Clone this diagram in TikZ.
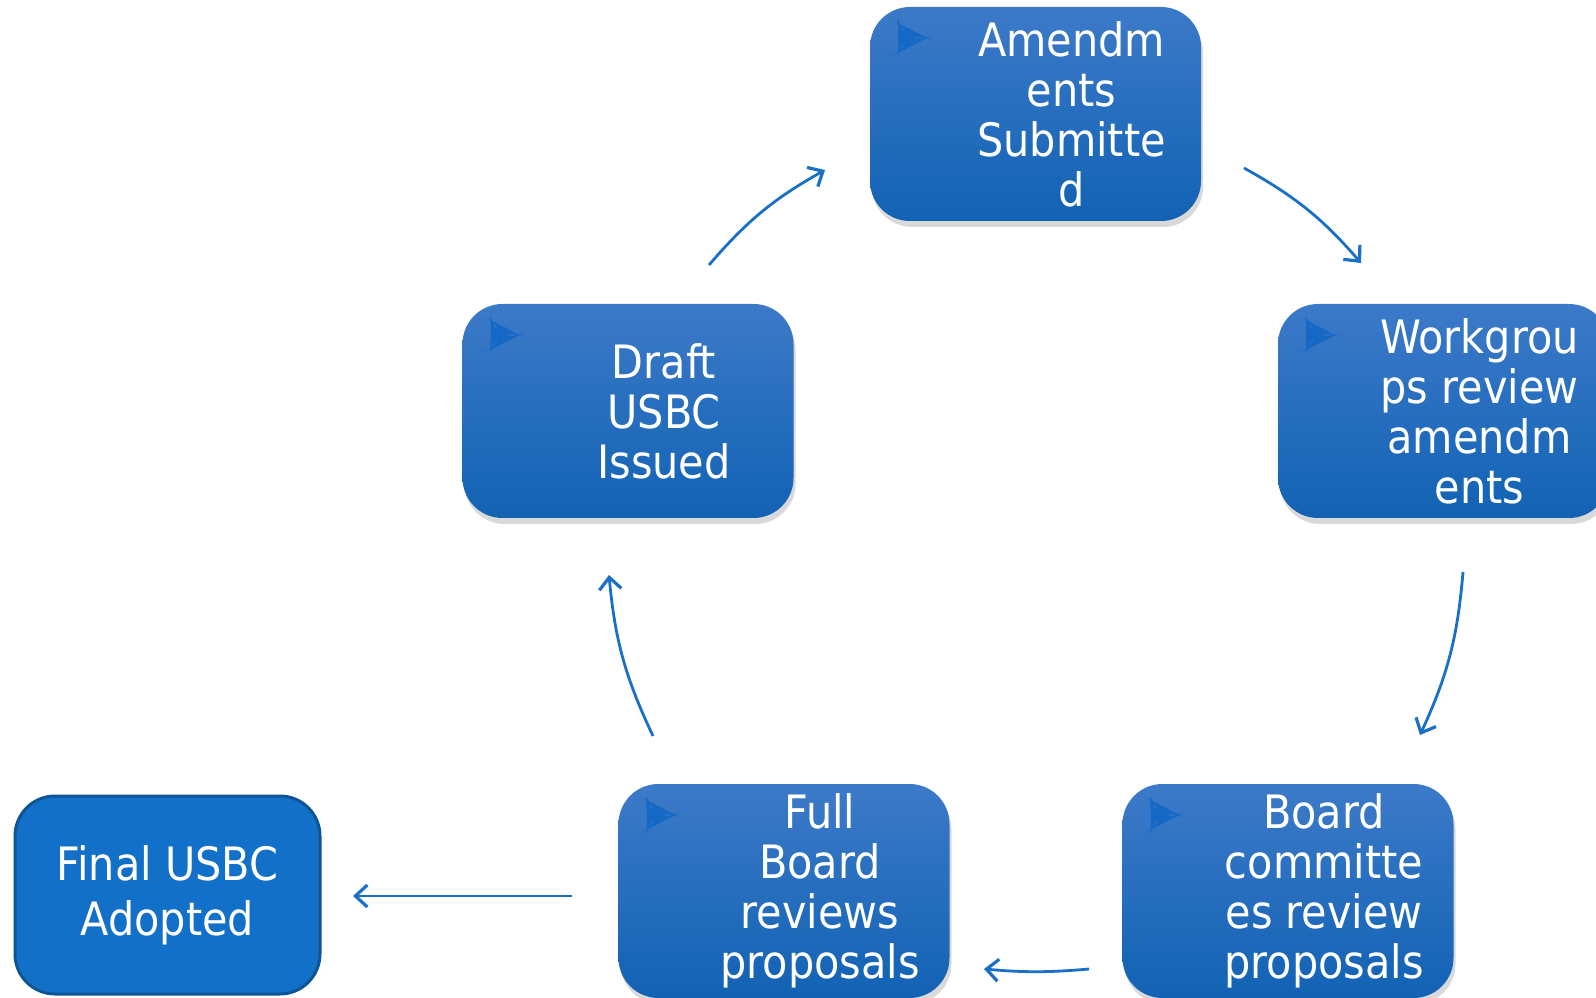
\documentclass[tikz,border=0pt]{standalone}
\usepackage{fontspec}
\setmainfont{DejaVu Sans Condensed}
\usetikzlibrary{arrows.meta,shadows,positioning}
\definecolor{boxtop}{HTML}{3C7AC8}
\definecolor{boxbot}{HTML}{1262B4}
\definecolor{bullet}{HTML}{1469C6}
\definecolor{finfill}{HTML}{1270C8}
\definecolor{finline}{HTML}{0F5596}
\definecolor{arrowcol}{HTML}{1A70C8}
\tikzset
{
    process/.style={rectangle, rounded corners=20pt, minimum width=165.5pt, minimum height=107pt, top color=boxtop, bottom color=boxbot, draw=none,
        drop shadow={shadow xshift=1pt, shadow yshift=-3pt, opacity=0.3},
        path picture={\fill[bullet] ([xshift=14pt,yshift=-8pt]path picture bounding box.north west) -- ++(14.5pt,-7.5pt) -- ++(-14.5pt,-7.5pt) -- cycle;}},
    final/.style={rectangle, rounded corners=20pt, minimum width=152.5pt, minimum height=99pt, fill=finfill, draw=finline, line width=1.5pt},
    boxtext/.style={text=white, align=center, font=\fontsize{23}{25}\selectfont},
    fintext/.style={text=white, align=center, font=\fontsize{23}{27.5}\selectfont},
    arrow/.style={draw=arrowcol, line width=1.4pt, -{Straight Barb[length=6pt,width=11pt,line width=1.6pt]}},
}
\begin{document}
\begin{tikzpicture}[x=0.5pt, y=0.5pt]
	\useasboundingbox (0,0) rectangle (1596,997);
	\clip (0,0) rectangle (1596,997);

	\node (p1) [process] at (1035.5,883) {};
	\node (p2) [process] at (1443.5,586) {};
	\node (p3) [process] at (1288,106) {};
	\node (p4) [process] at (784,106) {};
	\node (p5) [process] at (628,586) {};
	\node (fin) [final] at (167.5,102) {};

	\node (p1t) [boxtext] at ([xshift=18pt]p1.center) {Amendm\\ents\\Submitte\\d};
	\node (p2t) [boxtext] at ([xshift=18pt]p2.center) {Workgrou\\ps review\\amendm\\ents};
	\node (p3t) [boxtext] at ([xshift=18pt]p3.center) {Board\\committe\\es review\\proposals};
	\node (p4t) [boxtext] at ([xshift=18pt]p4.center) {Full\\Board\\reviews\\proposals};
	\node (p5t) [boxtext] at ([xshift=18pt]p5.center) {Draft\\USBC\\Issued};
	\node (fint) [fintext] at (fin.center) {Final USBC\\Adopted};

	% arrows around the cycle
	\coordinate (a1) at (709,732);   \coordinate (b1) at (825,827);
	\coordinate (a2) at (1244,829);  \coordinate (b2) at (1361,734);
	\coordinate (a3) at (1463,425);  \coordinate (b3) at (1420,262);
	\coordinate (a4) at (1089,28);   \coordinate (b4) at (984,28);
	\coordinate (a5) at (653,261);   \coordinate (b5) at (609,422);
	\coordinate (a6) at (572,101);   \coordinate (b6) at (353,101);

	\draw [arrow] (a1) to[bend left=10] (b1);
	\draw [arrow] (a2) to[bend left=10] (b2);
	\draw [arrow] (a3) to[bend left=10] (b3);
	\draw [arrow] (a4) to[bend left=5] (b4);
	\draw [arrow] (a5) to[bend left=10] (b5);
	\draw [arrow] (a6) -- (b6);

\end{tikzpicture}
\end{document}
